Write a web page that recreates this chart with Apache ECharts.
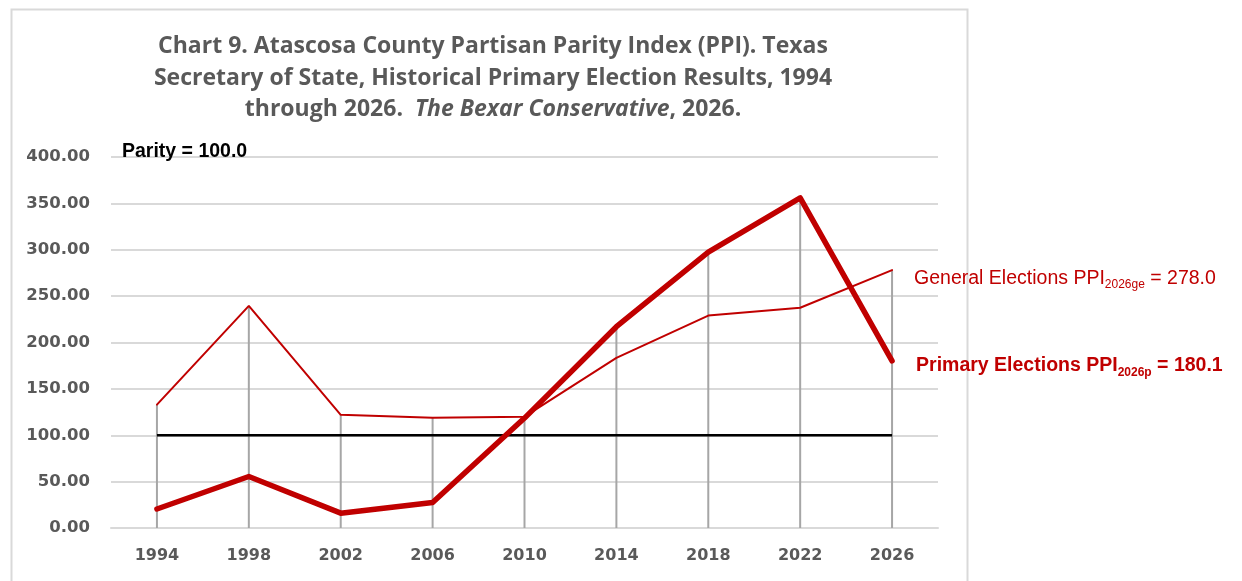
<!DOCTYPE html>
<html>
<head>
<meta charset="utf-8">
<script src="https://cdn.jsdelivr.net/npm/echarts@6/dist/echarts.min.js"></script>
<style>
html,body{margin:0;padding:0;background:#fff;}
#c{width:1242px;height:581px;}
</style>
</head>
<body>
<div id="c"></div>
<script>
var years = ['1994','1998','2002','2006','2010','2014','2018','2022','2026'];
var primaryPPI = [20.5, 55.5, 16.0, 27.5, 118.5, 217.0, 297.5, 356.0, 180.1];
var generalPPI = [133.0, 239.5, 122.0, 119.0, 120.0, 183.5, 229.0, 237.5, 278.0];
var parity = [100, 100, 100, 100, 100, 100, 100, 100, 100];
var yTicks = {min: 0, max: 400, interval: 50};

var dropLines = years.map(function(_, i){ return Math.max(primaryPPI[i], generalPPI[i]); });
var RED = '#C00000';
var GRAY = '#595959';

var chart = echarts.init(document.getElementById('c'));
chart.setOption({
  backgroundColor: '#ffffff',
  animation: false,
  title: {
    text: 'Chart 9. Atascosa County Partisan Parity Index (PPI). Texas\nSecretary of State, Historical Primary Election Results, 1994\nthrough 2026.  {i|The Bexar Conservative}, 2026.',
    left: 488,
    top: 26,
    textAlign: 'center',
    textStyle: {
      fontFamily: 'Open Sans',
      fontWeight: 'bold',
      fontSize: 23,
      color: GRAY,
      lineHeight: 31.5,
      rich: {
        i: {fontFamily: 'Open Sans', fontWeight: 'bold', fontStyle: 'italic', fontSize: 23, color: GRAY, lineHeight: 31.5}
      }
    }
  },
  graphic: [
    {type: 'rect', left: 9, top: 7, shape: {width: 956, height: 620}, style: {fill: 'none', stroke: '#d9d9d9', lineWidth: 2}, silent: true},
    {type: 'text', left: 122, top: 142, style: {text: 'Parity = 100.0', font: 'bold 19.5px "Liberation Sans"', fill: '#000000'}, z: 10}
  ],
  grid: {left: 111, right: 304, top: 157, bottom: 53, containLabel: false},
  xAxis: {
    type: 'category',
    data: years,
    boundaryGap: true,
    axisLine: {show: true, lineStyle: {color: '#d9d9d9', width: 2}},
    axisTick: {show: false},
    axisLabel: {margin: 20, fontFamily: 'DejaVu Sans', fontWeight: 'bold', fontSize: 16, color: GRAY}
  },
  yAxis: {
    type: 'value',
    min: yTicks.min, max: yTicks.max, interval: yTicks.interval,
    axisLine: {show: false},
    axisTick: {show: false},
    splitLine: {lineStyle: {color: '#d9d9d9', width: 2}},
    axisLabel: {margin: 21, fontFamily: 'DejaVu Sans', fontWeight: 'bold', fontSize: 16.5, color: GRAY,
      formatter: function(v){ return v.toFixed(2); }}
  },
  series: [
    {type: 'bar', data: dropLines, barWidth: 2, itemStyle: {color: '#a6a6a6'}, silent: true, z: 1},
    {type: 'line', data: parity, symbol: 'none', lineStyle: {color: '#000000', width: 2.5}, silent: true, z: 2},
    {type: 'line', name: 'General', data: generalPPI, symbol: 'none', lineStyle: {color: RED, width: 2, cap: 'round'}, z: 3,
      endLabel: {show: true, offset: [14, 6],
        formatter: function(p){ return '{a|General Elections PPI}{s|2026ge}{a| = ' + p.value.toFixed(1) + '}'; },
        rich: {
          a: {fontFamily: 'Liberation Sans', fontSize: 19.5, color: RED, lineHeight: 24, verticalAlign: 'bottom'},
          s: {fontFamily: 'Liberation Sans', fontSize: 12, color: RED, lineHeight: 24, verticalAlign: 'bottom', padding: [0,0,-3,0]}
        }}},
    {type: 'line', name: 'Primary', data: primaryPPI, symbol: 'none', lineStyle: {color: RED, width: 5.5, cap: 'round', join: 'round'}, z: 4,
      endLabel: {show: true, offset: [16, 3],
        formatter: function(p){ return '{a|Primary Elections PPI}{s|2026p}{a| = ' + p.value.toFixed(1) + '}'; },
        rich: {
          a: {fontFamily: 'Liberation Sans', fontWeight: 'bold', fontSize: 19.5, color: RED, lineHeight: 24, verticalAlign: 'bottom'},
          s: {fontFamily: 'Liberation Sans', fontWeight: 'bold', fontSize: 12, color: RED, lineHeight: 24, verticalAlign: 'bottom', padding: [0,0,-3,0]}
        }}}
  ]
});
</script>
</body>
</html>
